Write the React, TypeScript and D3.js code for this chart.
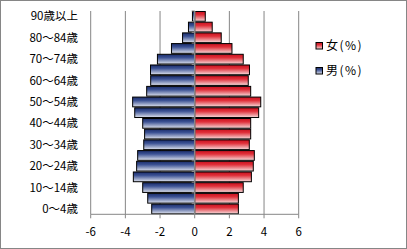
import React from "react";
import * as d3 from "d3";

const categories = [
  "0～4歳", "5～9歳", "10～14歳", "15～19歳", "20～24歳", "25～29歳", "30～34歳",
  "35～39歳", "40～44歳", "45～49歳", "50～54歳", "55～59歳", "60～64歳", "65～69歳",
  "70～74歳", "75～79歳", "80～84歳", "85～89歳", "90歳以上",
];
const female = [2.52, 2.52, 2.8, 3.27, 3.38, 3.44, 3.15, 3.23, 3.23, 3.69, 3.81, 3.23, 3.09, 3.16, 2.8, 2.15, 1.53, 1.01, 0.61];
const male = [-2.48, -2.71, -3.0, -3.54, -3.35, -3.29, -2.94, -2.89, -3.0, -3.46, -3.58, -2.77, -2.54, -2.55, -2.15, -1.34, -0.7, -0.36, -0.13];
const xTicks = [-6, -4, -2, 0, 2, 4, 6];
const seriesNames = ["女(%)", "男(%)"];

const W = 407;
const H = 249;
const FONT = "'Noto Sans CJK JP', 'Noto Sans', sans-serif";

export default function App() {
  const x = d3.scaleLinear().domain([-6, 6]).range([90.7, 298.7]);
  const y = d3
    .scaleBand<string>()
    .domain([...categories].reverse())
    .range([11, 214.3])
    .paddingInner(0.09)
    .paddingOuter(0.045);
  const step = y.step();
  const top = 11;
  const bottom = 214.3;
  const grid = "#868686";

  return (
    <svg
      width={W}
      height={H}
      style={{ position: "fixed", left: 0, top: 0, background: "#fff" }}
    >
      <defs>
        <linearGradient id="gF" x1="0" y1="0" x2="0" y2="1">
          <stop offset="0" stopColor="#c8101e" />
          <stop offset="0.35" stopColor="#e0303a" />
          <stop offset="1" stopColor="#f7dcdc" />
        </linearGradient>
        <linearGradient id="gM" x1="0" y1="0" x2="0" y2="1">
          <stop offset="0" stopColor="#1a2c6a" />
          <stop offset="0.35" stopColor="#3c5294" />
          <stop offset="1" stopColor="#dfe3ee" />
        </linearGradient>
      </defs>
      <rect x={0.5} y={0.5} width={W - 1} height={H - 1} fill="#fff" stroke={grid} />
      {/* gridlines */}
      {xTicks
        .filter((t) => t !== 0)
        .map((t) => (
          <line key={"g" + t} x1={x(t)} x2={x(t)} y1={top} y2={bottom} stroke={grid} strokeWidth={1} />
        ))}
      {/* bars */}
      {categories.map((c, i) => (
        <g key={c}>
          <rect
            x={x(male[i])}
            y={y(c)!}
            width={x(0) - x(male[i])}
            height={y.bandwidth()}
            fill="url(#gM)"
            stroke="#000"
            strokeWidth={1}
          />
          <rect
            x={x(0)}
            y={y(c)!}
            width={x(female[i]) - x(0)}
            height={y.bandwidth()}
            fill="url(#gF)"
            stroke="#000"
            strokeWidth={1}
          />
        </g>
      ))}
      {/* category axis */}
      <line x1={x(0)} x2={x(0)} y1={top} y2={bottom} stroke={grid} strokeWidth={1.5} />
      {d3.range(categories.length + 1).map((k) => (
        <line
          key={"ct" + k}
          x1={x(0) - 3}
          x2={x(0)}
          y1={top + k * ((bottom - top) / categories.length)}
          y2={top + k * ((bottom - top) / categories.length)}
          stroke={grid}
        />
      ))}
      {/* x axis */}
      <line x1={x(-6)} x2={x(6)} y1={bottom} y2={bottom} stroke={grid} strokeWidth={1} />
      {xTicks.map((t) => (
        <g key={"xt" + t}>
          <line x1={x(t)} x2={x(t)} y1={bottom} y2={bottom + 4} stroke={grid} />
          <text x={x(t)} y={236} textAnchor="middle" fontSize={11.5} fontFamily={FONT} fill="#000">
            {t}
          </text>
        </g>
      ))}
      {/* category labels */}
      {categories.map((c, i) =>
        i % 2 === 0 ? (
          <text
            key={"cl" + c}
            x={78}
            y={y(c)! + y.bandwidth() / 2}
            dy="0.36em"
            textAnchor="end"
            fontSize={11.5}
            fontFamily={FONT}
            fill="#000"
          >
            {c}
          </text>
        ) : null
      )}
      {/* legend */}
      {seriesNames.map((s, i) => (
        <g key={s} transform={`translate(316,${42.5 + i * 25})`}>
          <rect x={0} y={0} width={6.5} height={6.5} fill={i === 0 ? "url(#gF)" : "url(#gM)"} stroke="#000" strokeWidth={1} />
          <text x={10} y={3.5} dy="0.36em" fontSize={12} fontFamily={FONT} fill="#000" letterSpacing={1.5}>
            {s}
          </text>
        </g>
      ))}
    </svg>
  );
}
